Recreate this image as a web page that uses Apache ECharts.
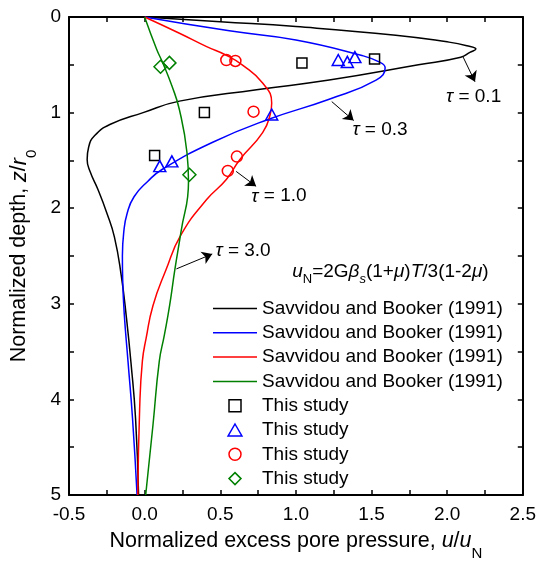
<!DOCTYPE html>
<html><head><meta charset="utf-8">
<script src="https://cdn.jsdelivr.net/npm/echarts@6/dist/echarts.min.js"></script>
<style>html,body{margin:0;padding:0;background:#fff}#c{width:539px;height:566px}</style>
</head><body><div id="c"></div>
<script>
// ---------- data (x = u/uN, z = z/r0) ----------
const curveTau01 = [[0,0],[0.5,0.05],[1.0,0.1],[1.66,0.19],[2.0,0.26],[2.13,0.30],[2.19,0.335],[2.15,0.37],[2.09,0.42],[1.81,0.5],[1.22,0.66],[0.74,0.76],[0.23,0.88],[-0.01,1.0],[-0.23,1.125],[-0.33,1.24],[-0.37,1.36],[-0.38,1.49],[-0.36,1.62],[-0.31,1.8],[-0.25,2.05],[-0.2,2.3],[-0.155,2.7],[-0.12,3.15],[-0.09,3.62],[-0.06,4.2],[-0.04,5.0]];
const curveTau03 = [[0,0],[0.56,0.145],[1.0,0.24],[1.43,0.40],[1.55,0.47],[1.59,0.53],[1.53,0.66],[1.22,0.86],[0.82,1.07],[0.45,1.31],[0.12,1.59],[0.02,1.72],[-0.07,1.88],[-0.115,2.05],[-0.138,2.25],[-0.147,2.5],[-0.145,2.75],[-0.135,3.1],[-0.11,3.6],[-0.08,4.2],[-0.05,5.0]];
const curveTau10 = [[0,0],[0.23,0.17],[0.41,0.31],[0.54,0.40],[0.645,0.5],[0.78,0.69],[0.84,0.9],[0.83,1.02],[0.78,1.21],[0.63,1.49],[0.54,1.70],[0.41,1.91],[0.24,2.28],[0.14,2.65],[0.055,3.02],[0.01,3.36],[-0.015,3.6],[-0.033,4.1],[-0.045,5.0]];
const curveTau30 = [[0,0],[0.08,0.34],[0.12,0.48],[0.18,0.72],[0.23,0.97],[0.28,1.42],[0.29,1.72],[0.24,2.25],[0.2,2.64],[0.165,3.02],[0.13,3.33],[0.097,3.6],[0.055,4.27],[0.007,5.0]];
const studyTau01 = [[1.04,0.48],[1.52,0.44],[0.395,1.0],[0.066,1.45]];
const studyTau03 = [[1.28,0.45],[1.34,0.47],[1.39,0.42],[0.84,1.02],[0.18,1.51],[0.10,1.56]];
const studyTau10 = [[0.54,0.45],[0.60,0.46],[0.72,0.99],[0.61,1.46],[0.55,1.61]];
const studyTau30 = [[0.105,0.52],[0.164,0.48],[0.296,1.65]];
const tauValues = ['0.1','0.3','1.0','3.0'];
const lineLegendText = 'Savvidou and Booker (1991)';
const studyLegendText = 'This study';
// annotation anchors in data units: arrow start, arrow end, label centre
const arrowStarts = [[2.105,0.417],[1.237,0.885],[0.605,1.615],[0.21,2.635]];
const arrowEnds   = [[2.184,0.677],[1.382,1.083],[0.737,1.771],[0.447,2.479]];
const tauLabelPos = [[2.175,0.833],[1.556,1.177],[0.888,1.875],[0.651,2.448]];
const formulaPos  = [1.625,2.667];
const xTickVals = [-0.5,2.5,0.5];   // min, max, step
const yTickVals = [0,5,1];

// ---------- styles ----------
const FONT = '"Liberation Sans", Arial, sans-serif';
const colors = ['#000000','#0000ff','#ff0000','#008000'];
const symbols = ['rect','triangle','circle','diamond'];
const symbolSizes = [10,[12,11],11,13];
const legendIcons = ['path://M0,0H10V10H0Z','path://M6,0L12,10.4L0,10.4Z','circle','path://M6,0L12,6L6,12L0,6Z'];
const lineIcon = 'path://M0,0H44V1.5H0Z';
const curves = [curveTau01,curveTau03,curveTau10,curveTau30];
const studies = [studyTau01,studyTau03,studyTau10,studyTau30];

const lineNames = tauValues.map(t => 'SB ' + t);
const studyNames = tauValues.map(t => 'TS ' + t);
const display = {};
lineNames.forEach(n => display[n] = lineLegendText);
studyNames.forEach(n => display[n] = studyLegendText);

const txt = (size, extra) => Object.assign({fontSize:size, fontFamily:FONT, color:'#000', verticalAlign:'middle'}, extra||{});

const series = [];
curves.forEach((c,i) => series.push({
  name: lineNames[i], type:'line', data:c, symbol:'none', showSymbol:false, smooth:0.5,
  lineStyle:{color:colors[i], width:1.5}, itemStyle:{color:colors[i]}, z:2, silent:true
}));
studies.forEach((s,i) => series.push({
  name: studyNames[i], type:'scatter', data:s, symbol:symbols[i], symbolSize:symbolSizes[i],
  itemStyle:{color:'rgba(255,255,255,0)', borderColor:colors[i], borderWidth:1.5, opacity:1}, z:3, silent:true
}));
// annotations attached to a helper series
series.push({
  name:'annot', type:'line', data:[], silent:true,
  markLine:{
    silent:true, symbol:['none','arrow'], symbolSize:10, animation:false,
    lineStyle:{color:'#000', width:1, type:'solid'}, label:{show:false}, emphasis:{disabled:true},
    data: arrowStarts.map((a,i) => [{coord:a},{coord:arrowEnds[i]}])
  },
  markPoint:{
    silent:true, symbol:'circle', symbolSize:0, animation:false,
    label:{show:true, position:'inside', color:'#000', fontSize:19, fontFamily:FONT,
      rich:{
        n:txt(19), i:txt(19,{fontStyle:'italic'}),
        sub:txt(13,{padding:[14,0,0,0]}), isub:txt(13,{fontStyle:'italic', padding:[14,0,0,0]})
      }},
    data: tauLabelPos.map((p,i) => ({coord:p, label:{formatter:'{i|τ}{n| = ' + tauValues[i] + '}'}}))
      .concat([{coord:formulaPos, label:{formatter:'{i|u}{sub|N}{n|=2G}{i|β}{isub|s}{n|(1+}{i|μ}{n|)}{i|T}{n|/3(1-2}{i|μ}{n|)}'}}])
  }
});

const axisLineStyle = {show:true, onZero:false, lineStyle:{color:'#000', width:2}};
const tickStyle = {show:true, inside:true, length:5, lineStyle:{color:'#000', width:1.5}};
const minorStyle = {show:true, splitNumber:2, length:5, lineStyle:{color:'#000', width:1.5}};
const nameRich = {
  n:txt(21.5), i:txt(21.5,{fontStyle:'italic'}), sub:txt(15,{padding:[25,0,0,0]})
};

const option = {
  animation:false,
  textStyle:{fontFamily:FONT},
  grid:{left:69, right:14, top:17, bottom:69, containLabel:false},
  legend:{
    orient:'vertical', left:213, top:299, padding:0, itemWidth:44, itemHeight:12, itemGap:5.3,
    selectedMode:false, textStyle:{fontSize:19, color:'#000', fontFamily:FONT},
    itemStyle:{borderWidth:1.5},
    formatter: n => display[n],
    data: lineNames.map(n => ({name:n, icon:lineIcon, itemStyle:{borderWidth:0}}))
      .concat(studyNames.map((n,i) => ({name:n, icon:legendIcons[i]})))
  },
  xAxis:[
    {type:'value', position:'bottom', min:xTickVals[0], max:xTickVals[1], interval:xTickVals[2],
     axisLine:axisLineStyle, axisTick:tickStyle, minorTick:minorStyle, splitLine:{show:false},
     axisLabel:{formatter:v => v.toFixed(1), fontSize:19, color:'#000', margin:10, fontFamily:FONT},
     name:'{n|Normalized excess pore pressure, }{i|u}{n|/}{i|u}{sub|N}', nameLocation:'middle', nameGap:26,
     nameTextStyle:{fontSize:21.5, color:'#000', fontFamily:FONT, rich:nameRich}},
    {type:'value', position:'top', min:xTickVals[0], max:xTickVals[1], interval:xTickVals[2],
     axisLine:axisLineStyle, axisTick:tickStyle, minorTick:minorStyle, splitLine:{show:false}, axisLabel:{show:false}}
  ],
  yAxis:[
    {type:'value', position:'left', inverse:true, min:yTickVals[0], max:yTickVals[1], interval:yTickVals[2],
     axisLine:axisLineStyle, axisTick:tickStyle, minorTick:minorStyle, splitLine:{show:false},
     axisLabel:{fontSize:19, color:'#000', margin:8, fontFamily:FONT},
     name:'{n|Normalized depth, }{i|z}{n|/}{i|r}{sub|0}', nameLocation:'middle', nameGap:26, nameRotate:90,
     nameTextStyle:{fontSize:21.5, color:'#000', fontFamily:FONT, rich:nameRich}},
    {type:'value', position:'right', inverse:true, min:yTickVals[0], max:yTickVals[1], interval:yTickVals[2],
     axisLine:axisLineStyle, axisTick:tickStyle, minorTick:minorStyle, splitLine:{show:false}, axisLabel:{show:false}}
  ],
  series: series
};
const chart = echarts.init(document.getElementById('c'));
chart.setOption(option);
</script>
</body></html>
